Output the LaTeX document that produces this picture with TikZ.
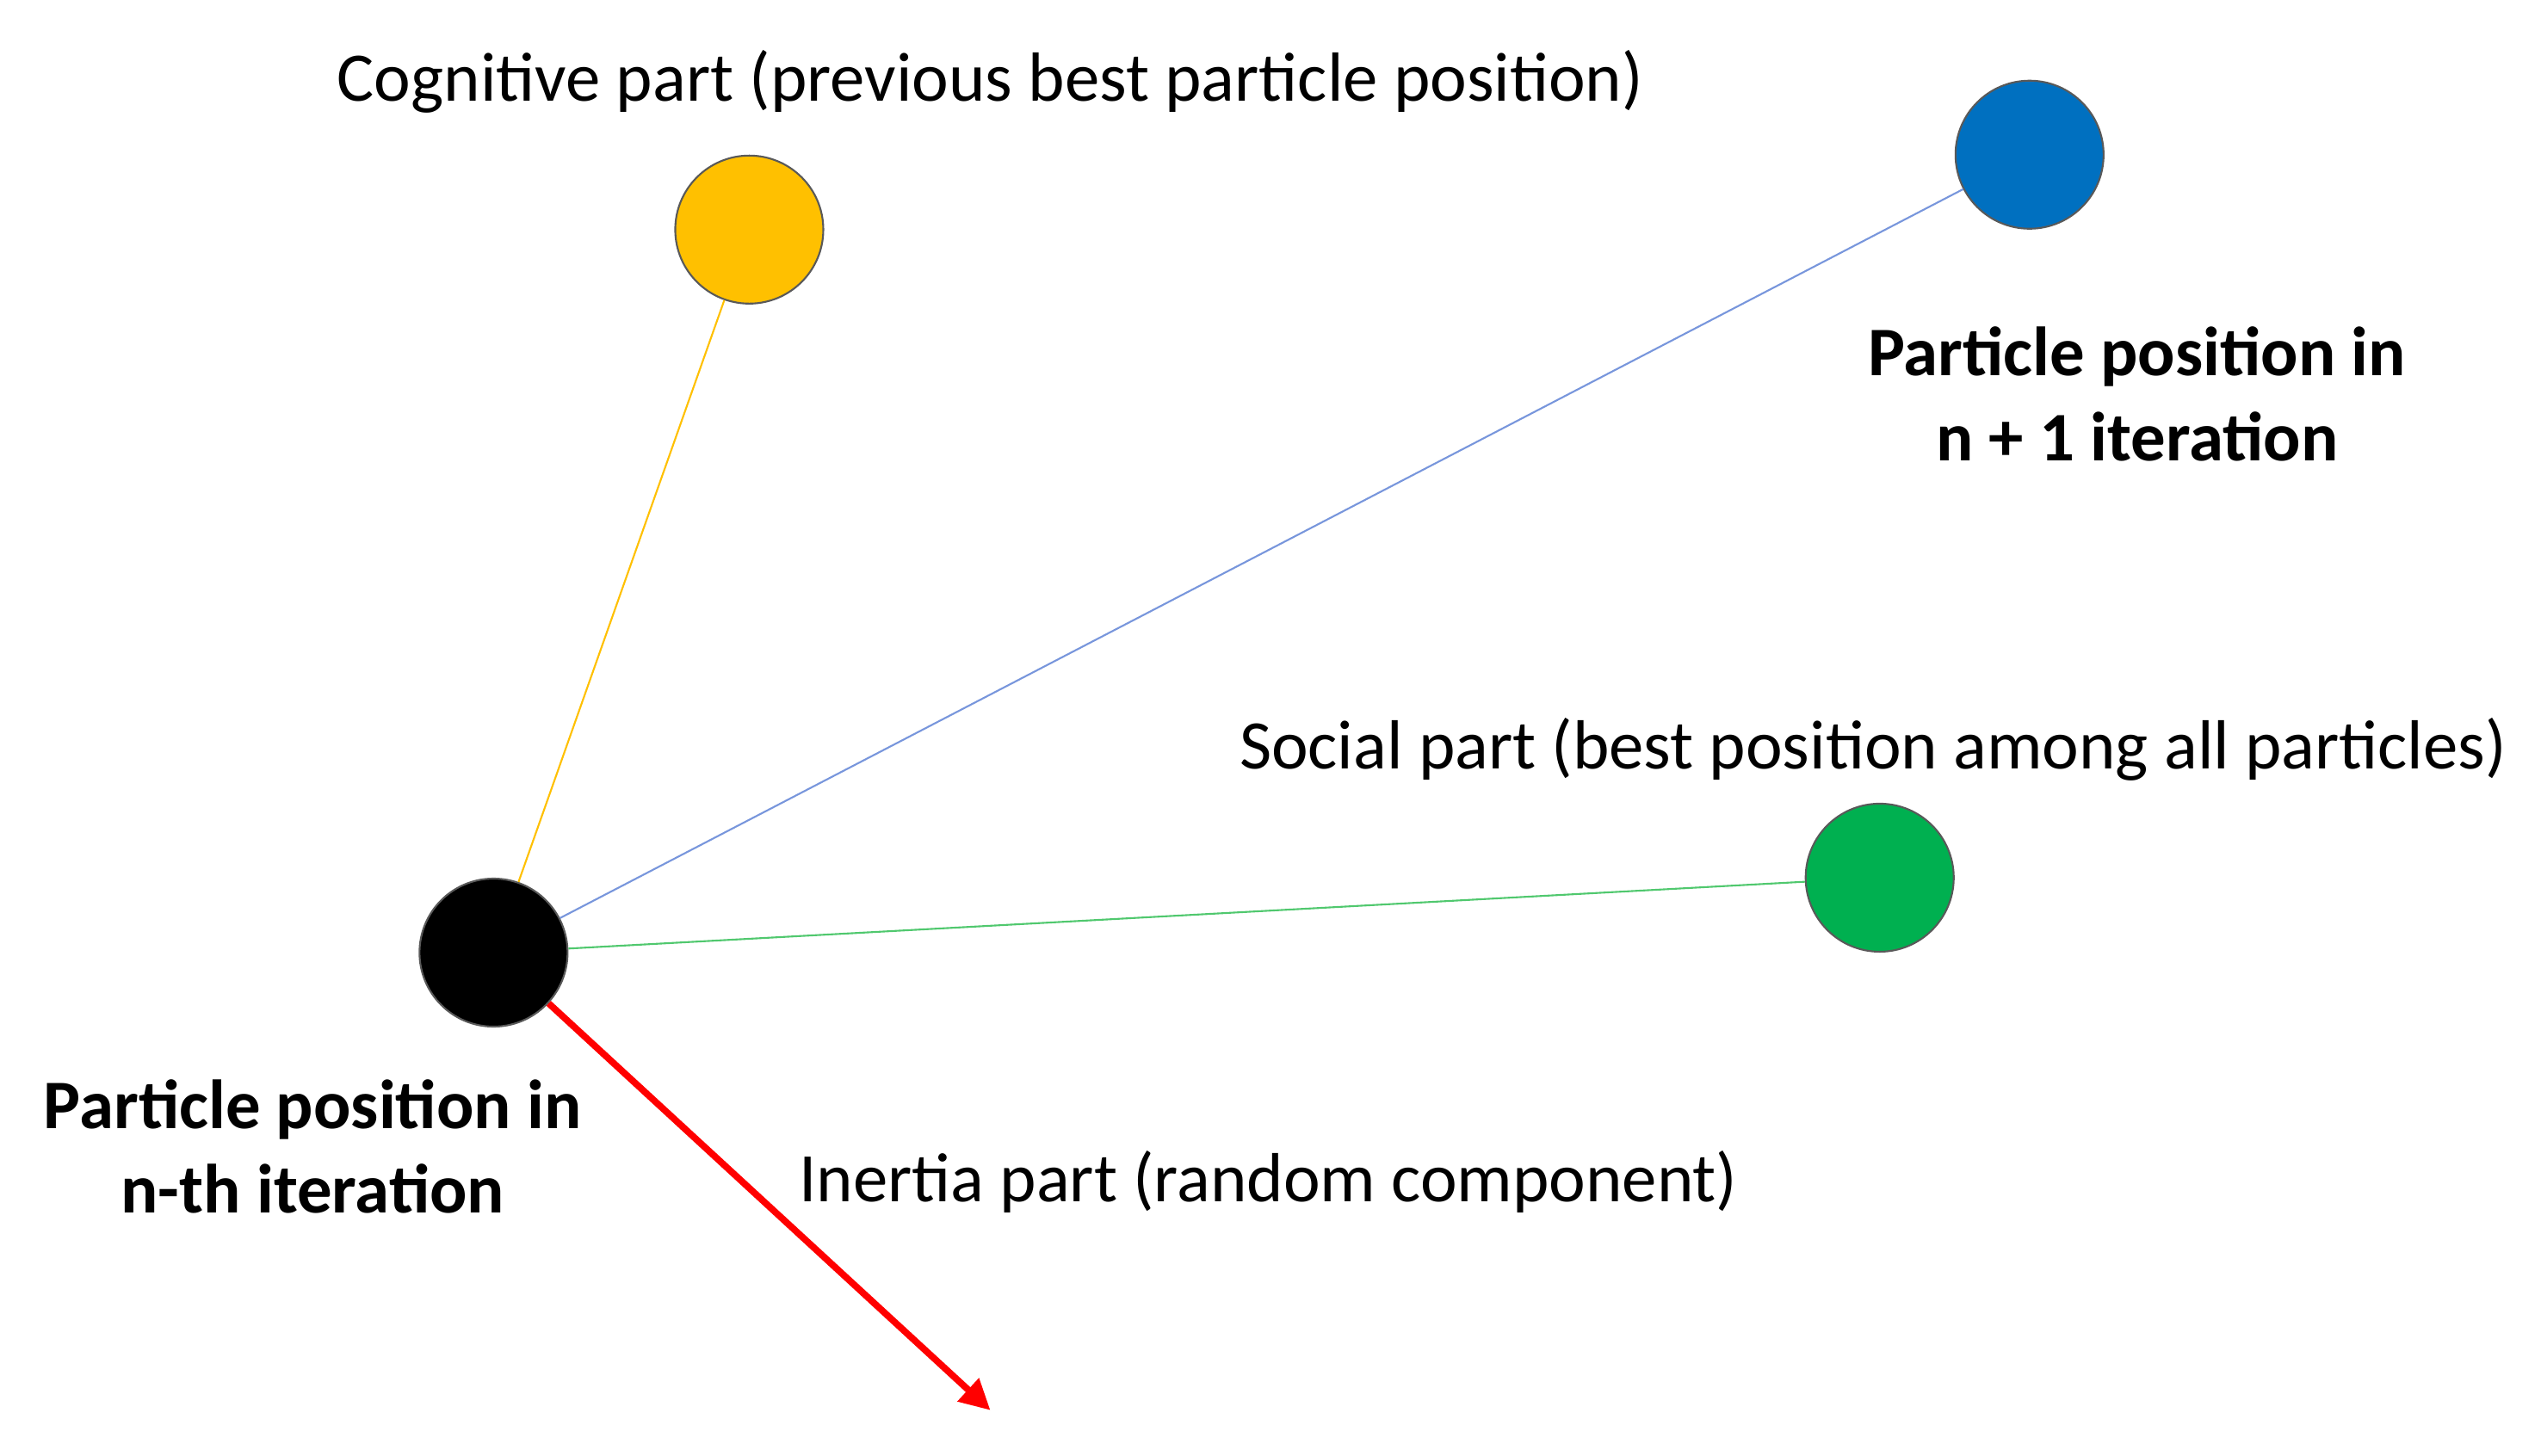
\documentclass[tikz,border=0pt]{standalone}
\usepackage{fontspec}
\setmainfont{Carlito}
\usetikzlibrary{positioning,arrows.meta}
\definecolor{cogyellow}{RGB}{255,192,0}
\definecolor{nextblue}{RGB}{0,112,192}
\definecolor{socgreen}{RGB}{0,176,80}
\definecolor{linkblue}{RGB}{120,150,220}
\definecolor{linkgreen}{RGB}{80,200,110}

\begin{document}
\begin{tikzpicture}[x=0.01892cm, y=-0.01892cm,
    particle/.style={circle, draw=gray!70!black, line width=0.6pt, fill=#1, minimum size=1.72cm, inner sep=0pt},
    caption/.style={font=\fontsize{23}{28}\selectfont},
    boldcap/.style={font=\fontsize{23}{28}\selectfont\bfseries, align=center}
]
\useasboundingbox (0,0) rectangle (1560,894);

\node[particle=black] (now) at (303,585) {};
\node[particle=cogyellow] (cog) at (460,141) {};
\node[particle=nextblue] (next) at (1246,95) {};
\node[particle=socgreen] (soc) at (1154,539) {};
\coordinate (inert) at (608,866);

% Links
\draw[cogyellow, line width=0.6pt] (now) -- (cog);
\draw[linkblue, line width=0.6pt] (now) -- (next);
\draw[linkgreen, line width=0.6pt] (now) -- (soc);
\draw[red, line width=2.2pt, -{Triangle[length=10pt,width=10pt]}] (now) -- (inert);

% Labels
\node[caption] (cogtxt) at (608,50) {Cognitive part (previous best particle position)};
\node[caption] (soctxt) at (1150,460) {Social part (best position among all particles)};
\node[caption, anchor=west] (inerttxt) at (484,726) {Inertia part (random component)};
\node[boldcap] (nexttxt) at (1312,242) {Particle position in\\n + 1 iteration};
\node[boldcap] (nowtxt) at (192,704) {Particle position in\\n-th iteration};
\end{tikzpicture}
\end{document}
